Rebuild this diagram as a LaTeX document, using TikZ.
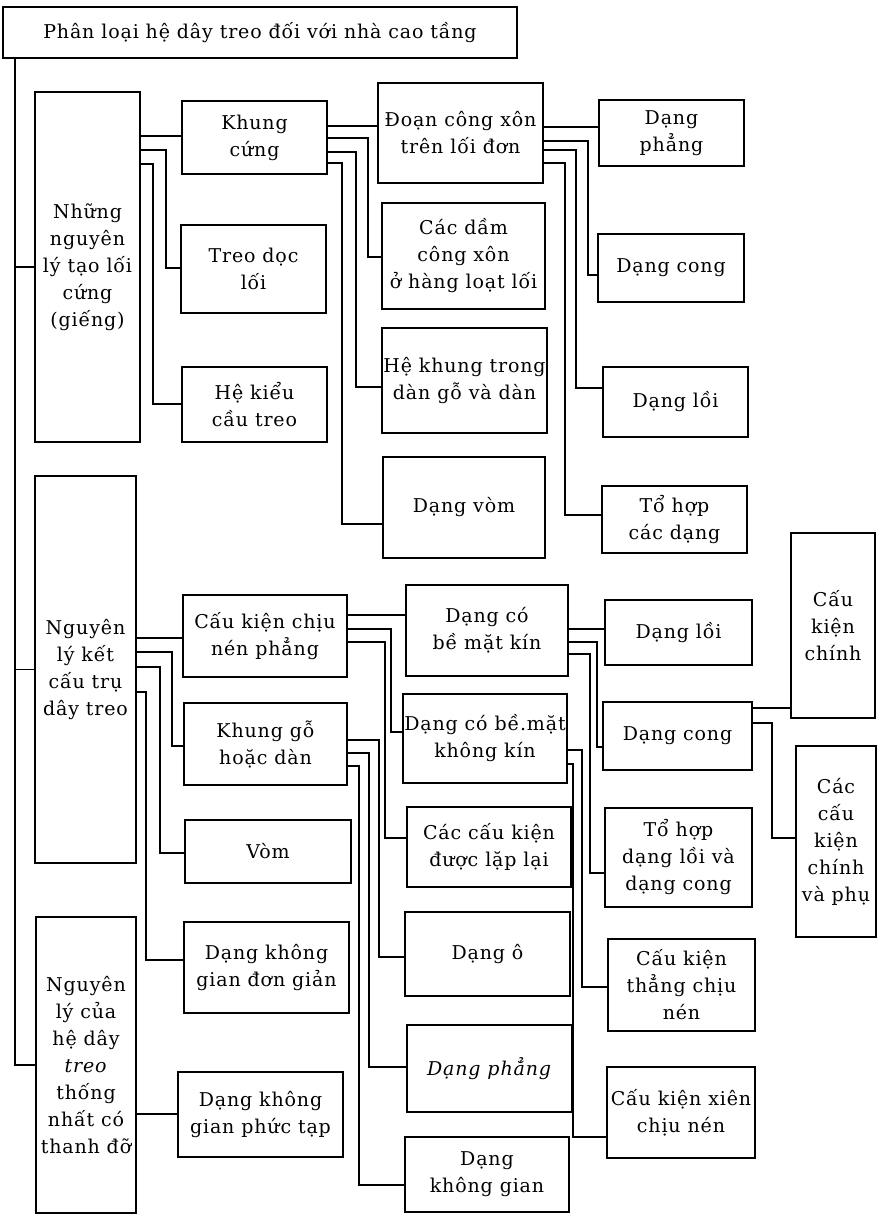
\documentclass[tikz,border=0pt]{standalone}
\usepackage{fontspec}
\setmainfont[LetterSpace=4.5]{DejaVu Serif}

\begin{document}
\begin{tikzpicture}[
    x=1pt, y=-1pt,
    box/.style={rectangle, draw, line width=1.9pt, align=center, inner sep=1pt, font=\fontsize{19}{27}\selectfont},
    link/.style={line width=1.9pt}
]
    \useasboundingbox (0,0) rectangle (881,1215);

    % Title
    \node[box, minimum width=514pt, minimum height=51pt] (title) at (260,32.5) {Phân loại hệ dây treo đối với nhà cao tầng};

    % Principles
    \node[box, minimum width=105pt, minimum height=350pt] (b1) at (87.5,267) {Những\\nguyên\\lý tạo lối\\cứng\\(giếng)};
    \node[box, minimum width=101pt, minimum height=387pt] (b2) at (85.5,669.5) {Nguyên\\lý kết\\cấu trụ\\dây treo};
    \node[box, minimum width=100pt, minimum height=296pt] (b3) at (86,1065) {Nguyên\\lý của\\hệ dây\\\textit{treo}\\thống\\nhất có\\thanh đỡ};

    % Second column
    \node[box, minimum width=145pt, minimum height=73pt] (khung) at (254.5,137.5) {Khung\\cứng};
    \node[box, minimum width=145pt, minimum height=88pt] (treo) at (253.5,269) {Treo dọc\\lối};
    \node[box, minimum width=145pt, minimum height=75pt] (caucau) at (254.5,404.5) {Hệ kiểu\\cầu treo};
    \node[box, minimum width=164pt, minimum height=82pt] (nenph) at (265,636) {Cấu kiện chịu\\nén phẳng};
    \node[box, minimum width=163pt, minimum height=82pt] (khgo) at (265.5,744) {Khung gỗ\\hoặc dàn};
    \node[box, minimum width=166pt, minimum height=63pt] (vom) at (268,851.5) {Vòm};
    \node[box, minimum width=165pt, minimum height=91pt] (kgdg) at (266.5,967.5) {Dạng không\\gian đơn giản};
    \node[box, minimum width=165pt, minimum height=85pt] (kgpt) at (260.5,1114.5) {Dạng không\\gian phức tạp};

    % Third column
    \node[box, minimum width=165pt, minimum height=100pt] (congxon) at (460.5,133) {Đoạn công xôn\\trên lối đơn};
    \node[box, minimum width=163pt, minimum height=106pt] (dam) at (463.5,256) {Các dầm\\công xôn\\ở hàng loạt lối};
    \node[box, minimum width=163pt, minimum height=105pt] (hekhung) at (464.5,380.5) {Hệ khung trong\\dàn gỗ và dàn};
    \node[box, minimum width=162pt, minimum height=101pt] (vomb) at (464,507.5) {Dạng vòm};
    \node[box, minimum width=162pt, minimum height=91pt] (kin) at (487,630.5) {Dạng có\\bề mặt kín};
    \node[box, minimum width=164pt, minimum height=89pt] (khongkin) at (485,738.5) {Dạng có bề.mặt\\không kín};
    \node[box, minimum width=164pt, minimum height=80pt] (lap) at (489,847) {Các cấu kiện\\được lặp lại};
    \node[box, minimum width=165pt, minimum height=84pt] (dango) at (487.5,954) {Dạng ô};
    \node[box, minimum width=165pt, minimum height=87pt] (phang) at (489.5,1068.5) {\textit{Dạng phẳng}};
    \node[box, minimum width=164pt, minimum height=75pt] (khonggian) at (487,1174.5) {Dạng\\không gian};

    % Fourth column
    \node[box, minimum width=145pt, minimum height=66pt] (ph1) at (671.5,133) {Dạng\\phẳng};
    \node[box, minimum width=146pt, minimum height=68pt] (cong1) at (671,268) {Dạng cong};
    \node[box, minimum width=145pt, minimum height=70pt] (loi1) at (675.5,402) {Dạng lồi};
    \node[box, minimum width=145pt, minimum height=67pt] (tohop1) at (674.5,519.5) {Tổ hợp\\các dạng};
    \node[box, minimum width=147pt, minimum height=65pt] (loi2) at (678.5,632.5) {Dạng lồi};
    \node[box, minimum width=149pt, minimum height=68pt] (cong2) at (677.5,736) {Dạng cong};
    \node[box, minimum width=147pt, minimum height=99pt] (tohop2) at (678.5,857.5) {Tổ hợp\\dạng lồi và\\dạng cong};
    \node[box, minimum width=147pt, minimum height=92pt] (thang) at (681.5,985) {Cấu kiện\\thẳng chịu\\nén};
    \node[box, minimum width=148pt, minimum height=91pt] (xien) at (681,1112.5) {Cấu kiện xiên\\chịu nén};

    % Fifth column
    \node[box, minimum width=84pt, minimum height=185pt] (chinh) at (833,625.5) {Cấu\\kiện\\chính};
    \node[box, minimum width=80pt, minimum height=191pt] (chinhphu) at (836,841.5) {Các\\cấu\\kiện\\chính\\và phụ};

    % Main trunk
    \draw[link] (title.south -| 15,0) |- (b3.west);
    \draw[link] (b1.west -| 15,0) -- (b1.west);
    \draw[link] (b2.west -| 15,0) -- (b2.west);

    % Nhung nguyen ly tao loi cung
    \draw[link] (b1.east |- 0,136) -- (khung.west |- 0,136);
    \draw[link] (b1.east |- 0,150) -| (166,268) -- (treo.west |- 0,268);
    \draw[link] (b1.east |- 0,164) -| (153,404) -- (caucau.west |- 0,404);

    % Khung cung
    \draw[link] (khung.east |- 0,126) -- (congxon.west |- 0,126);
    \draw[link] (khung.east |- 0,138) -| (368,257) -- (dam.west |- 0,257);
    \draw[link] (khung.east |- 0,152) -| (356,387) -- (hekhung.west |- 0,387);
    \draw[link] (khung.east |- 0,163) -| (342,524) -- (vomb.west |- 0,524);

    % Doan cong xon
    \draw[link] (congxon.east |- 0,127) -- (ph1.west |- 0,127);
    \draw[link] (congxon.east |- 0,141) -| (588,275) -- (cong1.west |- 0,275);
    \draw[link] (congxon.east |- 0,150) -| (576,388) -- (loi1.west |- 0,388);
    \draw[link] (congxon.east |- 0,163) -| (565,515) -- (tohop1.west |- 0,515);

    % Nguyen ly ket cau tru day treo
    \draw[link] (b2.east |- 0,638) -- (nenph.west |- 0,638);
    \draw[link] (b2.east |- 0,652) -| (172,746) -- (khgo.west |- 0,746);
    \draw[link] (b2.east |- 0,667) -| (160,853) -- (vom.west |- 0,853);
    \draw[link] (b2.east |- 0,692) -| (146,960) -- (kgdg.west |- 0,960);

    % He day treo thong nhat
    \draw[link] (b3.east |- 0,1114) -- (kgpt.west |- 0,1114);

    % Cau kien chiu nen phang
    \draw[link] (nenph.east |- 0,615) -- (kin.west |- 0,615);
    \draw[link] (nenph.east |- 0,629) -| (391,732) -- (khongkin.west |- 0,732);
    \draw[link] (nenph.east |- 0,642) -| (385,838) -- (lap.west |- 0,838);

    % Khung go hoac dan
    \draw[link] (khgo.east |- 0,740) -| (379,957) -- (dango.west |- 0,957);
    \draw[link] (khgo.east |- 0,753) -| (369,1067) -- (phang.west |- 0,1067);
    \draw[link] (khgo.east |- 0,766) -| (359,1185) -- (khonggian.west |- 0,1185);

    % Dang co be mat kin
    \draw[link] (kin.east |- 0,629) -- (loi2.west |- 0,629);
    \draw[link] (kin.east |- 0,642) -| (597,747) -- (cong2.west |- 0,747);
    \draw[link] (kin.east |- 0,654) -| (590,873) -- (tohop2.west |- 0,873);

    % Dang co be mat khong kin
    \draw[link] (khongkin.east |- 0,750) -| (582,987) -- (thang.west |- 0,987);
    \draw[link] (khongkin.east |- 0,764) -| (573,1137) -- (xien.west |- 0,1137);

    % Dang cong
    \draw[link] (cong2.east |- 0,708) -- (chinh.west |- 0,708);
    \draw[link] (cong2.east |- 0,723) -| (772,838) -- (chinhphu.west |- 0,838);
\end{tikzpicture}
\end{document}
